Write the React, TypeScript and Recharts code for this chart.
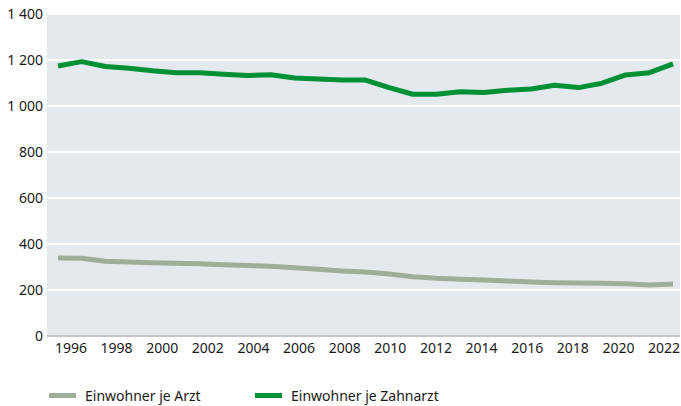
import { LineChart, Line, XAxis, YAxis, CartesianGrid, Legend } from "recharts"

const years = [
  1996, 1997, 1998, 1999, 2000, 2001, 2002, 2003, 2004, 2005, 2006, 2007, 2008, 2009,
  2010, 2011, 2012, 2013, 2014, 2015, 2016, 2017, 2018, 2019, 2020, 2021, 2022,
]
const perDoctor = [
  339, 338, 325, 322, 319, 316, 314, 310, 307, 303, 297, 290, 283, 278,
  270, 258, 251, 247, 243, 239, 235, 232, 230, 229, 227, 222, 226,
]
const perDentist = [
  1174, 1193, 1172, 1164, 1153, 1145, 1145, 1138, 1133, 1136, 1122, 1117, 1113, 1113,
  1080, 1051, 1051, 1062, 1059, 1068, 1074, 1090, 1080, 1099, 1135, 1145, 1183,
]
const yTicks = [0, 200, 400, 600, 800, 1000, 1200, 1400]
const xTicks = [1996, 1998, 2000, 2002, 2004, 2006, 2008, 2010, 2012, 2014, 2016, 2018, 2020, 2022]

const data = years.map((year, i) => ({ year, arzt: perDoctor[i], zahnarzt: perDentist[i] }))

const GRAY = "#9fae96"
const GREEN = "#009036"
const FONT = "'Noto Sans', sans-serif"
const TEXT = "#1a1a1a"

const fmt = (v: number) => (v >= 1000 ? `${Math.floor(v / 1000)}\u00A0${String(v % 1000).padStart(3, "0")}` : String(v))

function LegendContent() {
  const items = [
    { label: "Einwohner je Arzt", color: GRAY, left: 49 },
    { label: "Einwohner je Zahnarzt", color: GREEN, left: 255 },
  ]
  return (
    <div style={{ position: "relative", width: 681, height: 22, fontFamily: FONT, fontSize: 14, color: TEXT }}>
      {items.map((it) => (
        <div key={it.label} style={{ position: "absolute", left: it.left, top: 0, height: 22, display: "flex", alignItems: "center" }}>
          <span style={{ display: "inline-block", width: 27, height: 5, background: it.color, marginRight: 9 }} />
          <span>{it.label}</span>
        </div>
      ))}
    </div>
  )
}

export default function App() {
  return (
    <div style={{ position: "absolute", left: 0, top: 0, background: "#fff" }}>
      <LineChart width={681} height={406} data={data} margin={{ top: 14, right: 1, left: 0, bottom: 0 }}>
        <CartesianGrid xAxisId="data" vertical={false} fill="#e4e9ed" stroke="#ffffff" strokeWidth={2} />
        <XAxis
          xAxisId="data"
          dataKey="year"
          type="number"
          domain={[1995.535, 2022.296]}
          allowDataOverflow
          height={0}
          hide
        />
        <XAxis
          xAxisId="labels"
          dataKey="year"
          type="number"
          domain={[1994.948, 2022.7]}
          allowDataOverflow
          ticks={xTicks}
          interval={0}
          height={48}
          tickLine={false}
          tickSize={0}
          tickMargin={7}
          axisLine={{ stroke: "#c6c6c6", strokeWidth: 2 }}
          tick={{ fill: TEXT, fontSize: 14, fontFamily: FONT }}
        />
        <YAxis
          domain={[0, 1400]}
          ticks={yTicks}
          width={47}
          tickFormatter={fmt}
          tickLine={false}
          axisLine={false}
          tickSize={0}
          tickMargin={4}
          tick={{ fill: TEXT, fontSize: 14, fontFamily: FONT }}
        />
        <Legend
          verticalAlign="bottom"
          content={<LegendContent />}
          wrapperStyle={{ left: 0, width: 681, height: 22, bottom: 0 }}
        />
        <Line
          xAxisId="data"
          dataKey="arzt"
          name="Einwohner je Arzt"
          stroke={GRAY}
          strokeWidth={5}
          dot={false}
          strokeLinejoin="round"
          isAnimationActive={false}
        />
        <Line
          xAxisId="data"
          dataKey="zahnarzt"
          name="Einwohner je Zahnarzt"
          stroke={GREEN}
          strokeWidth={5}
          dot={false}
          strokeLinejoin="round"
          isAnimationActive={false}
        />
      </LineChart>
    </div>
  )
}
